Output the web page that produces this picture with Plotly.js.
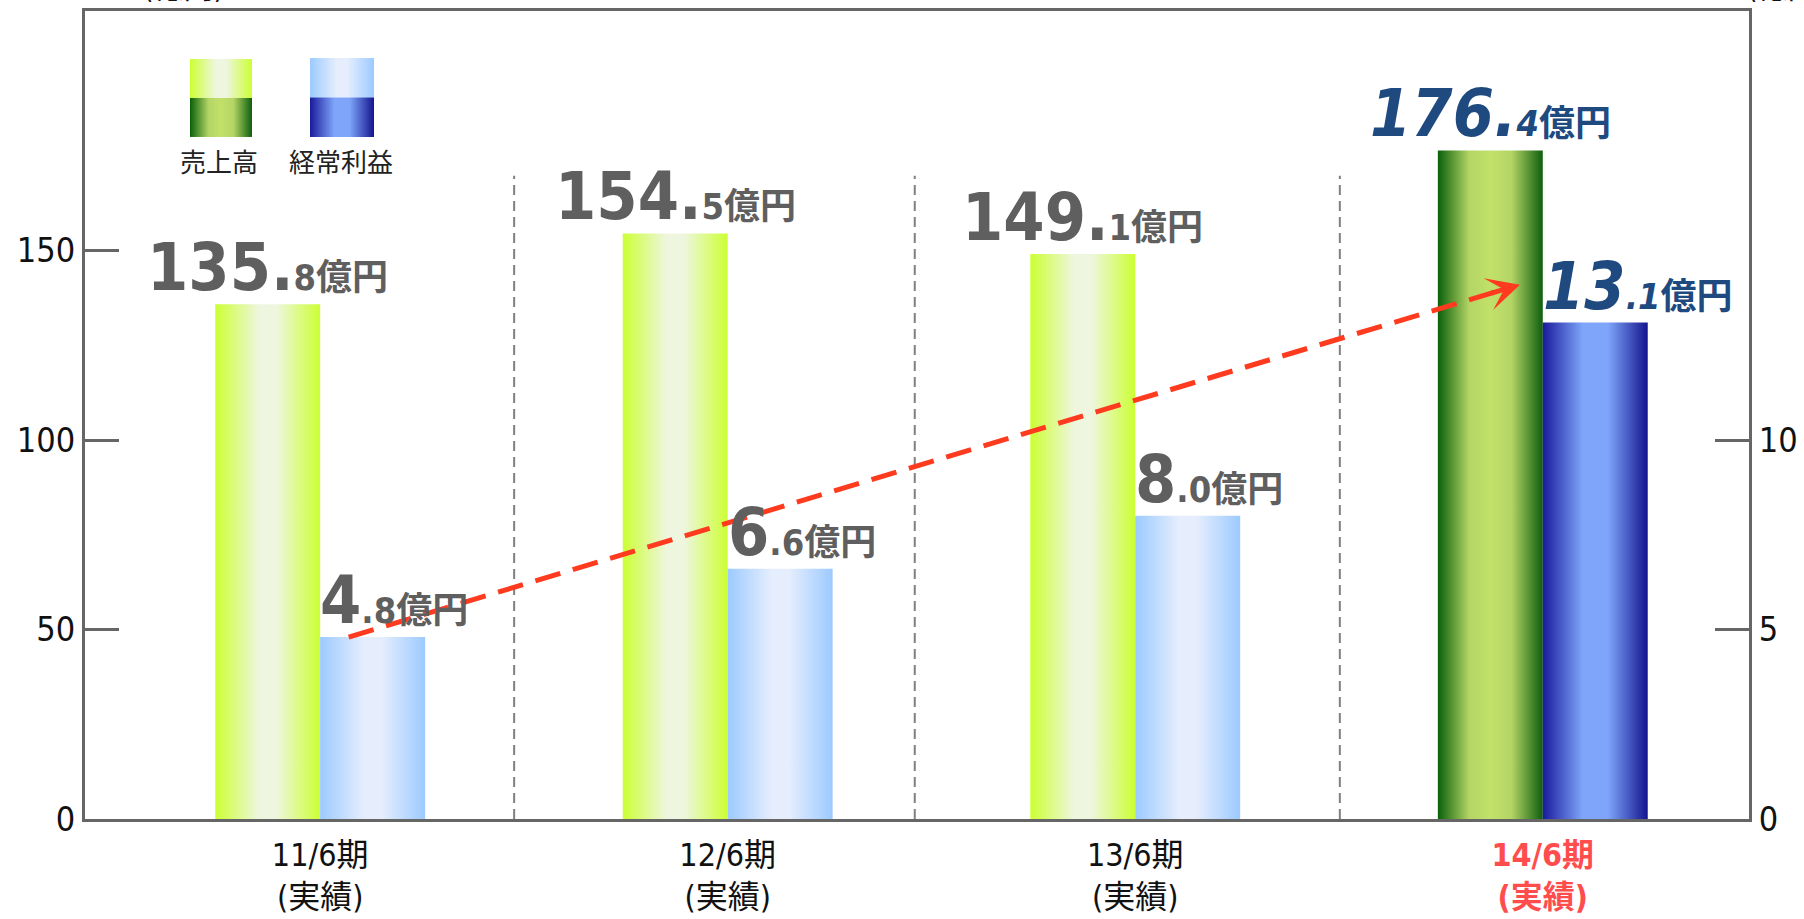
<!DOCTYPE html>
<html>
<head>
<meta charset="utf-8">
<script src="https://cdn.plot.ly/plotly-3.0.1.min.js"></script>
<style>
  html, body { margin: 0; padding: 0; background: #ffffff; }
  #chart { width: 1804px; height: 919px; }
  #gradDefs { position: absolute; left: 0; top: 0; width: 0; height: 0; }
</style>
</head>
<body>
<svg id="gradDefs" xmlns="http://www.w3.org/2000/svg"><defs id="gradDefsInner"></defs></svg>
<div id="chart"></div>
<script>
// ---------------- data ----------------
const categories    = ['11/6期', '12/6期', '13/6期', '14/6期'];
const categoryNotes = ['(実績)', '(実績)', '(実績)', '(実績)'];
const seriesNames   = ['売上高', '経常利益'];
const sales  = [135.8, 154.5, 149.1, 176.4];   // 売上高 (億円) – left axis
const profit = [4.8, 6.6, 8.0, 13.1];          // 経常利益 (億円) – right axis
const leftTicks  = [0, 50, 100, 150];
const rightTicks = [0, 5, 10];
const unitLabel  = '億円';
const axisUnit   = '(億円)';
const highlightIndex = 3;

// ---------------- styles ----------------
const FONT = "'DejaVu Sans Condensed', 'DejaVu Sans', 'Noto Sans CJK JP', sans-serif";
const CJK  = "'Noto Sans CJK JP', sans-serif";
const BARGAP = 0.485;
const barW = (1 - BARGAP) / 2;
const GRAY_LABEL = '#5f5f5f';
const BLUE_LABEL = '#1f4a7f';
const RED = '#ff3b1f';

const GRADS = {
  greenLight: [[0, '#ccff33'], [0.42, '#eef6df'], [0.58, '#eef6df'], [1, '#ccff33']],
  blueLight:  [[0, '#9ccaff'], [0.42, '#e6eefd'], [0.58, '#e6eefd'], [1, '#9ccaff']],
  greenDark:  [[0, '#0a600a'], [0.3, '#b4d565'], [0.5, '#c2e16a'], [0.7, '#b4d565'], [1, '#0e5e0e']],
  blueDark:   [[0, '#1a1a9c'], [0.38, '#7ea5fa'], [0.62, '#7ea5fa'], [1, '#14148e']]
};

function gradXml(id, stops) {
  return `<linearGradient id="${id}" x1="0" y1="0" x2="1" y2="0">` +
    stops.map(s => `<stop offset="${s[0]}" stop-color="${s[1]}"/>`).join('') +
    `</linearGradient>`;
}
document.getElementById('gradDefsInner').innerHTML =
  Object.keys(GRADS).map(k => gradXml(k, GRADS[k])).join('');

function swatch(top, bottom) {
  const svg = `<svg xmlns="http://www.w3.org/2000/svg" width="64" height="78" viewBox="0 0 64 78" preserveAspectRatio="none">` +
    `<defs>${gradXml('a', GRADS[top])}${gradXml('b', GRADS[bottom])}</defs>` +
    `<rect x="0" y="0" width="64" height="39.5" fill="url(#a)"/>` +
    `<rect x="0" y="39" width="64" height="39" fill="url(#b)"/></svg>`;
  return 'data:image/svg+xml;charset=utf-8,' + encodeURIComponent(svg);
}

const xIdx = categories.map((_, i) => i);

const data = [
  {
    type: 'bar', name: seriesNames[0], x: xIdx, y: sales, yaxis: 'y',
    offsetgroup: 'sales', marker: { color: '#d8f27a', line: { width: 0 } },
    hoverinfo: 'skip'
  },
  {
    type: 'bar', name: seriesNames[1], x: xIdx, y: profit, yaxis: 'y2',
    offsetgroup: 'profit', marker: { color: '#b8d6ff', line: { width: 0 } },
    hoverinfo: 'skip'
  }
];

const ticktext = categories.map((c, i) => {
  const t = `${c}<br>${categoryNotes[i]}`;
  return i === highlightIndex ? `<span style="color:#ff4d4d"><b>${t}</b></span>` : t;
});

const annotations = [];
const SMALL = 'font-size:36px';
const BIG = 66;

sales.forEach((v, i) => {
  const hi = i === highlightIndex;
  const [ip, dp] = v.toFixed(1).split('.');
  const big = hi ? `<i>${ip}.</i>` : `${ip}.`;
  const small = hi ? `<i>${dp}</i>${unitLabel}` : `${dp}${unitLabel}`;
  annotations.push({
    x: i - barW / 2, y: v, xref: 'x', yref: 'y',
    text: `<b>${big}<span style="${SMALL}">${small}</span></b>`,
    showarrow: false, xanchor: 'center', yanchor: 'bottom', yshift: -4,
    font: { family: FONT, size: BIG, color: hi ? BLUE_LABEL : GRAY_LABEL }
  });
});

profit.forEach((v, i) => {
  const hi = i === highlightIndex;
  const [ip, dp] = v.toFixed(1).split('.');
  const big = hi ? `<i>${ip}</i>` : `${ip}`;
  const small = hi ? `<i>.${dp}</i>${unitLabel}` : `.${dp}${unitLabel}`;
  annotations.push({
    x: i, y: v, xref: 'x', yref: 'y2',
    text: `<b>${big}<span style="${SMALL}">${small}</span></b>`,
    showarrow: false, xanchor: 'left', yanchor: 'bottom', yshift: -4, xshift: -2,
    font: { family: FONT, size: BIG, color: hi ? BLUE_LABEL : GRAY_LABEL }
  });
});

// legend labels
annotations.push({ x: 0.0805, y: 0.815, xref: 'paper', yref: 'paper', text: seriesNames[0],
  showarrow: false, xanchor: 'center', yanchor: 'middle', font: { family: CJK, size: 26, color: '#222' } });
annotations.push({ x: 0.1538, y: 0.815, xref: 'paper', yref: 'paper', text: seriesNames[1],
  showarrow: false, xanchor: 'center', yanchor: 'middle', font: { family: CJK, size: 26, color: '#222' } });

// axis unit titles (mostly cropped by the top edge, as in the original)
annotations.push({ x: 0.0589, y: 1.0055, xref: 'paper', yref: 'paper', text: axisUnit,
  showarrow: false, xanchor: 'center', yanchor: 'bottom', font: { family: FONT, size: 30, color: '#111' } });
annotations.push({ x: 0.9976, y: 1.0055, xref: 'paper', yref: 'paper', text: axisUnit,
  showarrow: false, xanchor: 'left', yanchor: 'bottom', font: { family: FONT, size: 30, color: '#111' } });

// trend arrow (from profit of first period to profit of last period)
const arrowStart = { x: 0 + 0.07, y: profit[0] };
const arrowEnd   = { x: highlightIndex - 0.056, y: profit[highlightIndex] + 1.0 };
annotations.push({
  x: arrowEnd.x, y: arrowEnd.y, xref: 'x', yref: 'y2', ax: -30, ay: 9,
  text: '', showarrow: true, arrowhead: 3, arrowsize: 1.1, arrowwidth: 5, arrowcolor: RED
});

const separatorX = [0.476, 1.459, 2.502];
const shapes = separatorX.map(x => ({
  type: 'line', xref: 'x', yref: 'paper', x0: x, x1: x, y0: 0, y1: 0.796,
  line: { color: '#808080', width: 2, dash: '10px,6px' }, layer: 'below'
}));
shapes.push({
  type: 'line', xref: 'x', yref: 'y2',
  x0: arrowStart.x, y0: arrowStart.y, x1: arrowEnd.x - 0.02, y1: arrowEnd.y - 0.06,
  line: { color: RED, width: 5, dash: '26px,13px' }, layer: 'above'
});

const images = [
  { source: swatch('greenLight', 'greenDark'), xref: 'paper', yref: 'paper',
    x: 0.0631, y: 0.9406, sizex: 0.0373, sizey: 0.0965, sizing: 'stretch',
    xanchor: 'left', yanchor: 'top', layer: 'above' },
  { source: swatch('blueLight', 'blueDark'), xref: 'paper', yref: 'paper',
    x: 0.1352, y: 0.9418, sizex: 0.0385, sizey: 0.0978, sizing: 'stretch',
    xanchor: 'left', yanchor: 'top', layer: 'above' }
];

const axisLine = { showline: true, linecolor: '#666', linewidth: 3, showgrid: false, zeroline: false, fixedrange: true };

const layout = {
  width: 1804, height: 919,
  margin: { l: 85, r: 55, t: 11, b: 100, pad: 0 },
  paper_bgcolor: '#ffffff', plot_bgcolor: '#ffffff',
  barmode: 'group', bargap: BARGAP, bargroupgap: 0,
  showlegend: false,
  font: { family: FONT, color: '#111' },
  xaxis: Object.assign({}, axisLine, {
    range: [-0.577, 3.506], tickmode: 'array', tickvals: xIdx, ticktext: ticktext,
    mirror: true, ticks: '', ticklabelstandoff: 6,
    tickfont: { family: FONT, size: 32, color: '#111' }
  }),
  yaxis: Object.assign({}, axisLine, {
    range: [0, 213.2], tickmode: 'array', tickvals: leftTicks,
    ticks: 'inside', ticklen: 34, tickwidth: 3, tickcolor: '#666',
    tickfont: { family: FONT, size: 34, color: '#111' }
  }),
  yaxis2: Object.assign({}, axisLine, {
    overlaying: 'y', side: 'right', range: [0, 21.32], tickmode: 'array', tickvals: rightTicks,
    ticks: 'inside', ticklen: 34, tickwidth: 3, tickcolor: '#666',
    tickfont: { family: FONT, size: 34, color: '#111' }
  }),
  annotations: annotations,
  shapes: shapes,
  images: images
};

Plotly.newPlot('chart', data, layout, { staticPlot: true, displayModeBar: false }).then(gd => {
  const traces = gd.querySelectorAll('.barlayer .trace');
  traces.forEach((tr, k) => {
    let ti = k;
    try { ti = tr.__data__[0].trace.index; } catch (e) {}
    tr.querySelectorAll('.point path').forEach((p, pi) => {
      const dark = pi === highlightIndex;
      const id = ti === 0 ? (dark ? 'greenDark' : 'greenLight') : (dark ? 'blueDark' : 'blueLight');
      p.style.fill = `url(#${id})`;
    });
  });
});
</script>
</body>
</html>
